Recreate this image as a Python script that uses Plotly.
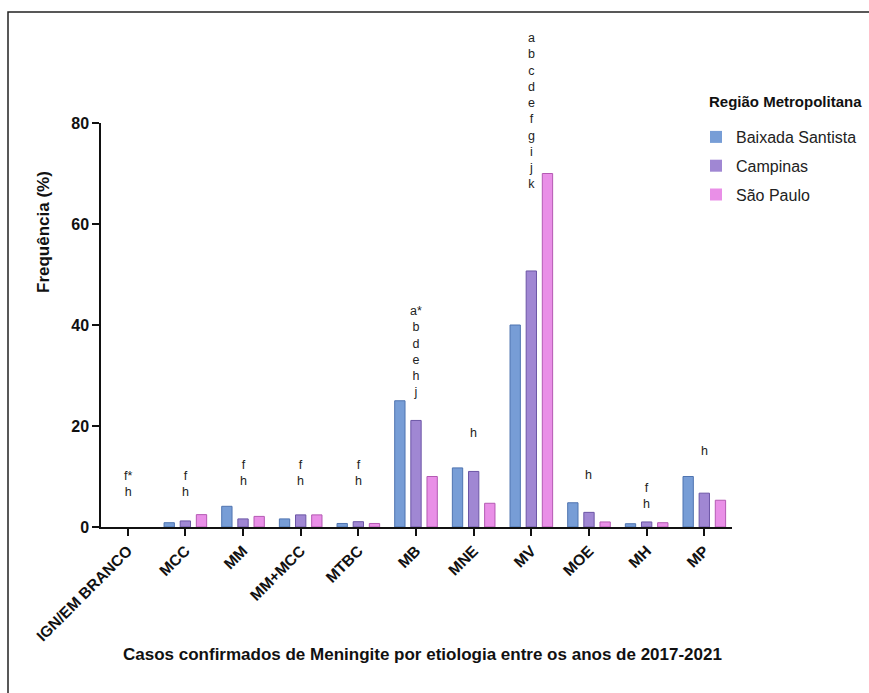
import plotly.graph_objects as go

# Etiologias (eixo x) e frequências (%) por região metropolitana
categorias = ["IGN/EM BRANCO", "MCC", "MM", "MM+MCC", "MTBC", "MB", "MNE", "MV", "MOE", "MH", "MP"]
baixada_santista = [0, 0.85, 4.1, 1.6, 0.7, 25.0, 11.7, 40.0, 4.8, 0.65, 10.0]
campinas = [0, 1.2, 1.6, 2.4, 1.05, 21.1, 11.0, 50.7, 2.9, 1.0, 6.7]
sao_paulo = [0, 2.45, 2.1, 2.4, 0.7, 10.0, 4.7, 70.0, 1.0, 0.85, 5.3]

# Letras de significância por etiologia e altura (em %) da base do texto
letras = {
    "IGN/EM BRANCO": ["f*", "h"],
    "MCC": ["f", "h"],
    "MM": ["f", "h"],
    "MM+MCC": ["f", "h"],
    "MTBC": ["f", "h"],
    "MB": ["a*", "b", "d", "e", "h", "j"],
    "MNE": ["h"],
    "MV": ["a", "b", "c", "d", "e", "f", "g", "i", "j", "k"],
    "MOE": ["h"],
    "MH": ["f", "h"],
    "MP": ["h"],
}
base_letras = {
    "IGN/EM BRANCO": 5.2, "MCC": 5.2, "MM": 7.4, "MM+MCC": 7.4, "MTBC": 7.4,
    "MB": 24.95, "MNE": 16.8, "MV": 66.1, "MOE": 8.5, "MH": 2.8, "MP": 13.3,
}

series = [
    ("Baixada Santista", baixada_santista, "#779dd6", "#4f74b0"),
    ("Campinas", campinas, "#a087d3", "#6c56a6"),
    ("São Paulo", sao_paulo, "#e98fe7", "#b45ab3"),
]

FONT = "Arial, Liberation Sans, Helvetica, sans-serif"

# geometria (px): a área "paper" vai até quase a borda direita,
# e o eixo x ocupa só a parte esquerda dela (a legenda fica à direita)
W, H = 869, 693
L, R, T, B = 101, 4, 123, 166
PW, PH = W - L - R, H - T - B
AXIS_END = 731.7


def px_x(px):
    return (px - L) / PW


def px_y(py):
    return (H - B - py) / PH


fig = go.Figure()
for nome, valores, cor, borda in series:
    fig.add_trace(go.Bar(
        x=categorias, y=valores, name=nome, legendgroup=nome,
        marker=dict(color=cor, line=dict(color=borda, width=[1 if v > 0 else 0 for v in valores])),
    ))

for cat, lst in letras.items():
    fig.add_annotation(
        x=cat, y=base_letras[cat], xref="x", yref="y",
        text="<br>".join(lst), showarrow=False, yanchor="bottom",
        xanchor="center", align="center",
        font=dict(family=FONT, size=12.5, color="#222"),
    )

# título da legenda
fig.add_annotation(
    x=px_x(785), y=px_y(102), xref="paper", yref="paper",
    xanchor="center", yanchor="middle",
    text="<b>Região Metropolitana</b>", showarrow=False,
    font=dict(family=FONT, size=15, color="#111"),
)

# títulos dos eixos
fig.add_annotation(
    x=px_x(43), y=px_y(232), xref="paper", yref="paper", textangle=-90,
    xanchor="center", yanchor="middle",
    text="<b>Frequência (%)</b>", showarrow=False,
    font=dict(family=FONT, size=17, color="#111"),
)
fig.add_annotation(
    x=px_x(422), y=px_y(654), xref="paper", yref="paper",
    xanchor="center", yanchor="middle",
    text="<b>Casos confirmados de Meningite por etiologia entre os anos de 2017-2021</b>",
    showarrow=False, font=dict(family=FONT, size=17, color="#111"),
)

fig.update_layout(
    width=W, height=H,
    margin=dict(l=L, r=R, t=T, b=B, autoexpand=False),
    paper_bgcolor="white", plot_bgcolor="white",
    barmode="group", bargap=0.16, bargroupgap=0.36,
    font=dict(family=FONT, color="#111"),
    showlegend=True,
    legend=dict(
        x=px_x(696), y=px_y(120), xanchor="left", yanchor="top",
        font=dict(family=FONT, size=16, color="#222"),
        tracegroupgap=5, bgcolor="rgba(0,0,0,0)",
    ),
    xaxis=dict(
        domain=[0, (AXIS_END - L) / PW],
        range=[-0.463, 10.475],
        tickangle=-45,
        tickfont=dict(family=FONT, size=15.5, weight="bold", color="#111"),
        showline=True, linecolor="#111", linewidth=1.5,
        ticks="outside", ticklen=7, tickwidth=1.5, tickcolor="#111",
        showgrid=False, zeroline=False,
    ),
    yaxis=dict(
        range=[0, 80],
        tickvals=[0, 20, 40, 60, 80],
        tickfont=dict(family=FONT, size=16, weight="bold", color="#111"),
        showline=True, linecolor="#111", linewidth=1.5,
        ticks="outside", ticklen=7, tickwidth=1.5, tickcolor="#111",
        showgrid=False, zeroline=False,
    ),
)

# moldura externa da figura (cortada à direita e embaixo)
fig.add_shape(
    type="rect", xref="paper", yref="paper",
    x0=px_x(8), x1=px_x(W + 40), y0=px_y(H + 40), y1=px_y(12),
    line=dict(color="#222", width=1.5), fillcolor="rgba(0,0,0,0)", layer="below",
)

fig.write_html("out.html")
